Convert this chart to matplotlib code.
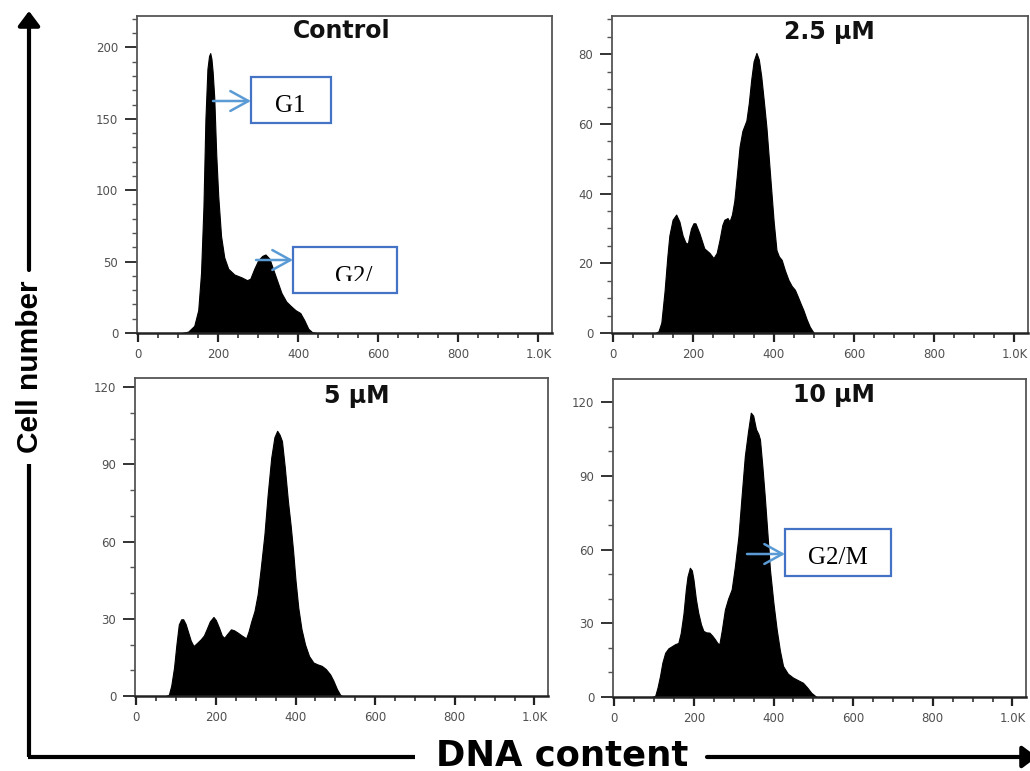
import matplotlib
matplotlib.use("Agg")
import matplotlib.pyplot as plt
from matplotlib.patches import Rectangle, FancyArrowPatch
from matplotlib.lines import Line2D
from matplotlib.ticker import MultipleLocator, FixedLocator, FixedFormatter
from matplotlib.transforms import Bbox, TransformedBbox

# ---------------- data ----------------
ctrl_x = [110, 125, 140, 150, 157, 163, 168, 173, 177, 180, 183, 186, 190, 195, 200, 207, 215,
          225, 240, 258, 272, 280, 290, 300, 310, 318, 328, 338, 348, 358, 370, 381, 393, 405,
          415, 425, 435, 445]
ctrl_y = [0, 1, 5, 16, 42, 88, 150, 185, 194, 196, 192, 183, 165, 125, 96, 68, 53,
          45, 41, 39, 37, 38, 45, 51, 54, 55, 52, 44, 36, 28, 22, 19, 16, 14,
          9, 3, 0.5, 0]

d25_x = [105, 113, 120, 128, 135, 140, 148, 157, 165, 173, 180, 186, 190, 194, 200, 205, 215,
         227, 240, 250, 258, 265, 272, 277, 285, 290, 296, 302, 308, 315, 322, 332, 338, 344,
         350, 357, 363, 369, 376, 382, 388, 394, 400, 407, 413, 420, 428, 437, 445, 453, 460,
         467, 474, 482, 490, 500]
d25_y = [0, 0.5, 3, 12, 22, 28, 32.5, 34, 32, 28, 26, 25.6, 28, 30, 31.5, 31.5, 28.6,
         24.3, 23, 21.5, 23, 26.7, 31, 32.5, 33, 32, 34, 38, 45, 53.5, 58, 61, 66, 72.7,
         78, 80.4, 78.5, 73.7, 66, 59, 50, 41, 32, 23.8, 22, 21, 18, 15.2, 13.5, 12.4, 10.5,
         8.5, 6.6, 4, 1.8, 0]

d5_x = [75, 82, 88, 95, 101, 107, 113, 118, 124, 130, 137, 144, 152, 162, 170, 177, 185, 194,
        200, 208, 215, 221, 228, 238, 246, 255, 265, 276, 282, 289, 297, 305, 313, 322, 330,
        339, 347, 354, 360, 366, 373, 381, 388, 394, 400, 407, 415, 424, 434, 445, 455, 466,
        476, 487, 495, 504, 512, 517]
d5_y = [0, 0.5, 4, 11, 20, 27.8, 29.8, 29.8, 28, 25, 21.5, 19.4, 20.5, 22, 23.5, 26, 29, 30.7,
        29.5, 26.5, 23.5, 22.6, 24, 25.9, 25.5, 24.6, 23.5, 22.4, 25, 29, 33, 39.5, 50, 62.8, 78,
        92.5, 100.5, 103, 101.5, 99, 89, 75.7, 66, 56.3, 45, 34.3, 26, 20, 15.5, 13, 12.3, 11.7,
        10.5, 8.4, 6, 2.7, 0.5, 0]

d10_x = [95, 103, 109, 115, 121, 128, 136, 145, 153, 161, 167, 174, 180, 184, 190, 195, 199,
         205, 211, 218, 224, 231, 239, 246, 253, 259, 264, 270, 278, 286, 295, 303, 312, 320,
         328, 336, 343, 349, 356, 362, 366, 372, 378, 385, 391, 400, 408, 416, 424, 436, 449,
         462, 474, 485, 495, 508]
d10_y = [0, 0.5, 4, 8.5, 14, 18, 19.8, 20.7, 21.5, 22, 26, 34, 44, 49, 52.6, 51.5, 47.9,
         40, 34.3, 29.5, 26.9, 26.3, 26.2, 25, 23.5, 22, 21.4, 27, 35.6, 40, 43.8, 53, 65.5, 82,
         98, 108, 115.7, 114.5, 109, 107, 104.8, 94, 81.8, 66, 52, 38, 27.5, 19, 12.6, 9.5, 7.9,
         6.8, 5.8, 3.8, 1.7, 0]

titles = ["Control", "2.5 µM", "5 µM", "10 µM"]
x_tick_values = [0, 200, 400, 600, 800, 1000]
x_tick_labels = ["0", "200", "400", "600", "800", "1.0K"]
y_major_steps = [50, 20, 30, 30]
y_minor_steps = [10, 5, 10, 10]
y_tick_max = [200, 80, 120, 120]
y_limits = [222, 91, 123.5, 129.4]
series = [(ctrl_x, ctrl_y), (d25_x, d25_y), (d5_x, d5_y), (d10_x, d10_y)]

# ---------------- layout ----------------
W, H = 1030, 771
fig = plt.figure(figsize=(W / 100, H / 100), dpi=100)
fig.patch.set_facecolor("white")


def fx(px):
    return px / W


def fy(py):
    return 1 - py / H


panel_px = [(137, 16, 552, 333), (612, 16, 1028, 333),
            (135, 378, 548, 696), (613, 379, 1026, 697)]
title_px = [(342, 31), (829, 32), (357, 396), (834, 395)]

tick_color = "#505050"
for i, (l, t, r, b) in enumerate(panel_px):
    ax = fig.add_axes([fx(l), fy(b), fx(r - l), (b - t) / H])
    xs, ys = series[i]
    ax.fill_between(xs, ys, 0, color="black", lw=0.8, edgecolor="black")
    ax.set_xlim(-3, 1034)
    ax.set_ylim(0, y_limits[i])
    ax.xaxis.set_major_locator(FixedLocator(x_tick_values))
    ax.xaxis.set_major_formatter(FixedFormatter(x_tick_labels))
    ax.xaxis.set_minor_locator(MultipleLocator(50))
    ax.yaxis.set_major_locator(FixedLocator(list(range(0, y_tick_max[i] + 1, y_major_steps[i]))))
    ax.yaxis.set_minor_locator(MultipleLocator(y_minor_steps[i]))
    ax.tick_params(axis="y", which="major", length=8.5, width=1.4, pad=5,
                   labelsize=8.5, labelcolor=tick_color, color="#333333")
    ax.tick_params(axis="y", which="minor", length=3.6, width=1.0, color="#555555")
    ax.tick_params(axis="x", which="major", length=6.5, width=1.6, pad=4,
                   labelsize=8.5, labelcolor=tick_color, color="#222222")
    ax.tick_params(axis="x", which="minor", length=3.6, width=1.2, color="#333333")
    for lab in ax.get_xticklabels() + ax.get_yticklabels():
        lab.set_fontfamily("DejaVu Sans")
    for name, sp in ax.spines.items():
        sp.set_linewidth(1.3)
        sp.set_color("#555555")
    ax.spines["bottom"].set_color("#222222")
    ax.spines["bottom"].set_linewidth(1.8)
    ax.set_facecolor("white")
    tx, ty = title_px[i]
    fig.text(fx(tx), fy(ty), titles[i], ha="center", va="center",
             fontsize=17, fontweight="bold", family="DejaVu Sans", color="#111111")

# ---------------- big axis labels with arrows ----------------
lw_big = 3.0
fig.add_artist(Line2D([fx(29), fx(29)], [fy(757), fy(464)], transform=fig.transFigure,
                      color="black", lw=lw_big, solid_capstyle="butt"))
fig.add_artist(FancyArrowPatch((fx(29), fy(270)), (fx(29), fy(11)), transform=fig.transFigure,
                               arrowstyle="-|>,head_length=0.8,head_width=0.6",
                               mutation_scale=11, color="black", lw=lw_big,
                               shrinkA=0, shrinkB=0))
fig.add_artist(Line2D([fx(27.5), fx(415)], [fy(757), fy(757)], transform=fig.transFigure,
                      color="black", lw=lw_big, solid_capstyle="butt"))
fig.add_artist(FancyArrowPatch((fx(707), fy(757)), (fx(1037), fy(757)), transform=fig.transFigure,
                               arrowstyle="-|>,head_length=0.8,head_width=0.6",
                               mutation_scale=11, color="black", lw=lw_big,
                               shrinkA=0, shrinkB=0))
fig.text(fx(30), fy(367), "Cell number", rotation=90, ha="center", va="center",
         fontsize=21.5, fontweight="bold", family="Liberation Sans", color="black")
fig.text(fx(562), fy(766), "DNA content", ha="center", va="baseline",
         fontsize=25.5, fontweight="bold", family="DejaVu Sans", color="black")

# ---------------- annotation boxes ----------------
box_color = "#4472C4"
arrow_color = "#5B9BD5"


def add_box(x0, y0, x1, y1):
    fig.add_artist(Rectangle((fx(x0), fy(y1)), fx(x1 - x0), (y1 - y0) / H,
                             transform=fig.transFigure, fill=False,
                             edgecolor=box_color, lw=1.6))


def add_arrow(xa, xb, y):
    fig.add_artist(FancyArrowPatch((fx(xa), fy(y)), (fx(xb), fy(y)), transform=fig.transFigure,
                                   arrowstyle="->,head_length=1.0,head_width=0.55",
                                   mutation_scale=13, color=arrow_color, lw=1.8,
                                   shrinkA=0, shrinkB=0))


add_box(251, 77, 331, 123)
add_arrow(213, 251, 101)
fig.text(fx(290), fy(112), "G1", ha="center", va="baseline", fontsize=18,
         family="Liberation Serif", color="black")

add_box(293, 247, 397, 293)
add_arrow(256, 293, 260)
t2 = fig.text(fx(335), fy(283), "G2/", ha="left", va="baseline", fontsize=18,
              family="Liberation Serif", color="black")
t2.set_clip_box(TransformedBbox(Bbox([[fx(290), fy(281)], [fx(400), fy(240)]]), fig.transFigure))
t2.set_clip_on(True)

add_box(785, 529, 891, 576)
add_arrow(747, 785, 554)
fig.text(fx(838), fy(564), "G2/M", ha="center", va="baseline", fontsize=18,
         family="Liberation Serif", color="black")

fig.savefig("out.png", dpi=100, facecolor="white")
